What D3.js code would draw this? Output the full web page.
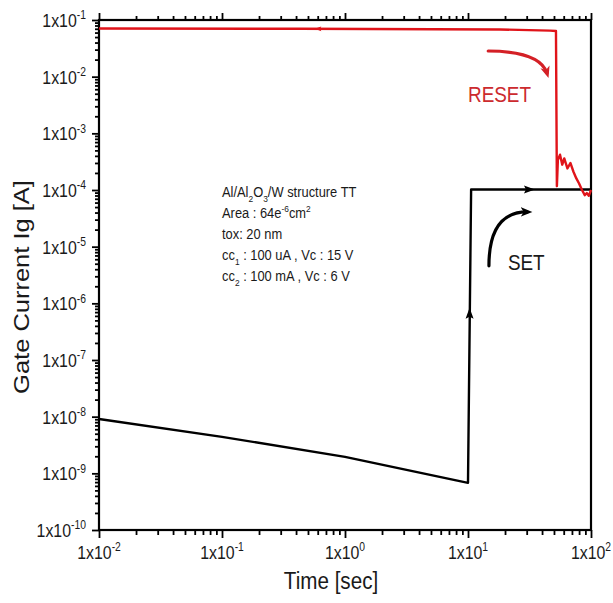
<!DOCTYPE html>
<html>
<head>
<meta charset="utf-8">
<script src="https://cdn.jsdelivr.net/npm/d3@7"></script>
<style>
  body { margin: 0; background: #fff; }
  text { font-family: "Liberation Sans", Arial, sans-serif; fill: #1a1a1a; }
</style>
</head>
<body>
<svg id="chart"></svg>
<script>
// decades shown on the axes
var timeDecades = [-2, -1, 0, 1, 2];
var currentDecades = [-10, -9, -8, -7, -6, -5, -4, -3, -2, -1];

// SET sweep (black)
var setTime    = [0.01, 0.1, 1, 10, 10.6, 100];
var setCurrent = [9.1e-9, 4.4e-9, 1.95e-9, 6.8e-10, 1.02e-4, 1.02e-4];

// RESET sweep (red)
var resetTime    = [0.01, 0.43, 18.2, 46.4, 51.9, 52.8, 53.8, 56, 58.4, 60.6, 64.3, 68, 72, 76, 80, 84.5, 89, 92.5, 96, 100];
var resetCurrent = [7.1e-2, 7.0e-2, 6.8e-2, 6.5e-2, 6.4e-2, 1.17e-4, 3.4e-4, 4.2e-4, 2.8e-4, 3.6e-4, 2.4e-4, 3.0e-4, 2.1e-4, 1.6e-4, 1.3e-4, 1.0e-4, 8.1e-5, 8.8e-5, 7.9e-5, 1.0e-4];

// direction arrows sitting on the curves: [time, current, angle, scale]
var setArrows   = [[10.3, 6.8e-7, -90, 1], [31.9, 1.02e-4, 0, 1]];
var resetArrows = [[0.6, 7.0e-2, 180, 0.6]];

// annotation arrows: start, control, end
var setSweepArrow   = [[14.8, 4.6e-6], [14.8, 4.1e-5], [30.2, 4.1e-5]];
var resetSweepArrow = [[14.6, 2.84e-2], [38.5, 2.8e-2], [43.8, 1.16e-2]];

var infoLines = [
  [["Al/Al"], ["2", "sub"], ["O"], ["3", "sub"], ["/W structure TT"]],
  [["Area : 64e"], ["-6", "sup"], ["cm"], ["2", "sup"]],
  [["tox: 20 nm"]],
  [["cc"], ["1", "sub"], [" : 100 uA , Vc : 15 V"]],
  [["cc"], ["2", "sub"], [" : 100 mA , Vc : 6 V"]]
];

var W = 613, H = 603;
var margin = {top: 20, right: 22, bottom: 73, left: 99};
var width = W - margin.left - margin.right,
    height = H - margin.top - margin.bottom;
var squeeze = 0.86;

var svg = d3.select("#chart").attr("width", W).attr("height", H);
var g = svg.append("g").attr("transform", "translate(" + margin.left + "," + margin.top + ")");

var x = d3.scaleLog().domain([1e-2, 1e2]).range([0, width]);
var y = d3.scaleLog().domain([1e-10, 1e-1]).range([height, 0]);

function majors(decs) { return decs.map(function(d) { return Math.pow(10, d); }); }
function minors(decs) {
  var out = [];
  decs.slice(0, -1).forEach(function(d) {
    for (var k = 2; k <= 9; k++) out.push(k * Math.pow(10, d));
  });
  return out;
}

// write a text made of plain / sup / sub parts, squeezed horizontally
function writeText(parent, px, py, parts, opts) {
  var wrap = parent.append("g")
    .attr("transform", "translate(" + px + "," + py + ") scale(" + squeeze + ",1)" + (opts.rotate ? " rotate(" + opts.rotate + ")" : ""));
  var t = wrap.append("text")
    .attr("text-anchor", opts.anchor || "start")
    .style("font-size", opts.size + "px")
    .style("fill", opts.color || null);
  var shift = 0;
  parts.forEach(function(p) {
    var target = p[1] === "sup" ? -opts.size * 0.42 : p[1] === "sub" ? opts.size * 0.3 : 0;
    t.append("tspan")
      .attr("dy", target - shift)
      .style("font-size", p[1] ? (opts.size * 0.65) + "px" : null)
      .text(p[0]);
    shift = target;
  });
  return t;
}

// axes
function styleAxis(sel) {
  sel.select(".domain").remove();
  sel.selectAll(".tick line").attr("stroke", "#000").attr("stroke-width", 1.8);
}

g.append("g").attr("transform", "translate(0," + height + ")")
  .call(d3.axisBottom(x).tickValues(majors(timeDecades)).tickSize(8).tickFormat("")).call(styleAxis);
g.append("g").attr("transform", "translate(0," + height + ")")
  .call(d3.axisBottom(x).tickValues(minors(timeDecades)).tickSize(5).tickFormat("")).call(styleAxis);
g.append("g")
  .call(d3.axisTop(x).tickValues(majors(timeDecades)).tickSize(7).tickFormat("")).call(styleAxis);
g.append("g")
  .call(d3.axisTop(x).tickValues(minors(timeDecades)).tickSize(4).tickFormat("")).call(styleAxis);
g.append("g")
  .call(d3.axisLeft(y).tickValues(majors(currentDecades)).tickSize(7).tickFormat("")).call(styleAxis);
g.append("g")
  .call(d3.axisLeft(y).tickValues(minors(currentDecades)).tickSize(4).tickFormat("")).call(styleAxis);

g.append("rect")
  .attr("width", width).attr("height", height)
  .attr("fill", "none").attr("stroke", "#000").attr("stroke-width", 2.2);

// tick labels
timeDecades.forEach(function(d) {
  writeText(g, x(Math.pow(10, d)), height + 29, [["1x10"], [String(d), "sup"]], {size: 18.5, anchor: "middle"});
});
currentDecades.forEach(function(d) {
  writeText(g, -13, y(Math.pow(10, d)) + 7, [["1x10"], [String(d), "sup"]], {size: 18.5, anchor: "end"});
});

// axis titles
writeText(g, 232, height + 59, [["Time [sec]"]], {size: 24, anchor: "middle"});
writeText(svg, 29, 287, [["Gate Current Ig [A]"]], {size: 25.5, anchor: "middle", rotate: -90});

// curves
var line = d3.line()
  .x(function(d) { return x(d[0]); })
  .y(function(d) { return y(d[1]); });

g.append("path")
  .datum(d3.zip(setTime, setCurrent))
  .attr("d", line)
  .attr("fill", "none").attr("stroke", "#000").attr("stroke-width", 2.4).attr("stroke-linejoin", "round");

g.append("path")
  .datum(d3.zip(resetTime, resetCurrent))
  .attr("d", line)
  .attr("fill", "none").attr("stroke", "#e0141a").attr("stroke-width", 2.4).attr("stroke-linejoin", "round");

// arrowheads on the curves
function heads(data, color) {
  g.selectAll(null).data(data).enter().append("path")
    .attr("d", "M5,0 L-6,-4 L-4,0 L-6,4 Z")
    .attr("fill", color)
    .attr("transform", function(d) {
      return "translate(" + x(d[0]) + "," + y(d[1]) + ") rotate(" + d[2] + ") scale(" + d[3] + ")";
    });
}
heads(setArrows, "#000");
heads(resetArrows, "#e0141a");

// curved annotation arrows
var defs = svg.append("defs");
[["headBlack", "#000"], ["headRed", "#d42026"]].forEach(function(m) {
  defs.append("marker")
    .attr("id", m[0]).attr("viewBox", "-6 -5 12 10")
    .attr("markerWidth", 4).attr("markerHeight", 4)
    .attr("orient", "auto").attr("markerUnits", "strokeWidth")
    .append("path").attr("d", "M5,0 L-6,-4.5 L-3,0 L-6,4.5 Z").attr("fill", m[1]);
});

function sweep(pts, color, marker) {
  var p = d3.path();
  p.moveTo(x(pts[0][0]), y(pts[0][1]));
  p.quadraticCurveTo(x(pts[1][0]), y(pts[1][1]), x(pts[2][0]), y(pts[2][1]));
  g.append("path").attr("d", p.toString())
    .attr("fill", "none").attr("stroke", color).attr("stroke-width", 3.2)
    .attr("stroke-linecap", "round")
    .attr("marker-end", "url(#" + marker + ")");
}
sweep(setSweepArrow, "#000", "headBlack");
sweep(resetSweepArrow, "#d42026", "headRed");

// labels
writeText(g, x(10), y(3.57e-3), [["RESET"]], {size: 22, color: "#cc2a2e"});
writeText(g, x(21.1), y(3.9e-6), [["SET"]], {size: 22, color: "#1a1a1a"});

var infoTop = y(7.5e-5);
infoLines.forEach(function(parts, i) {
  writeText(g, x(0.1), infoTop + i * 21, parts, {size: 15});
});
</script>
</body>
</html>
